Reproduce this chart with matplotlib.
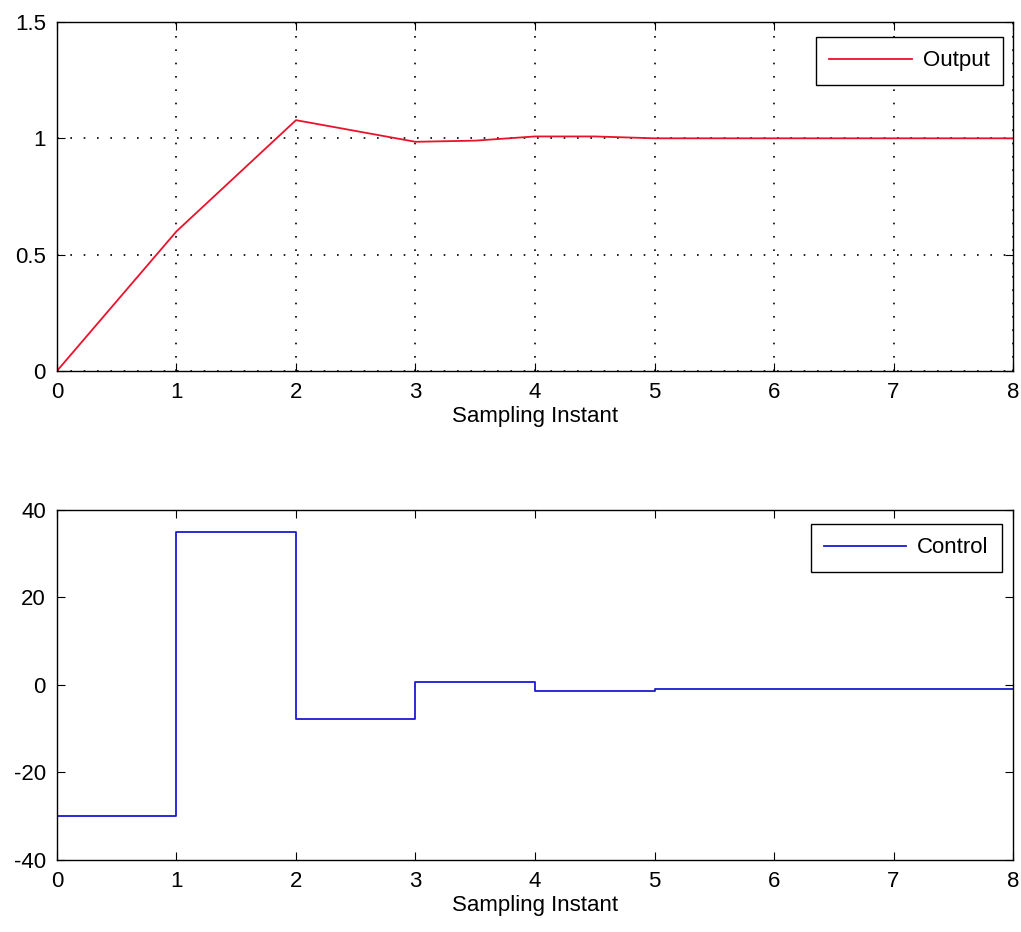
import numpy as np
import matplotlib.pyplot as plt

plt.rcParams['font.family'] = ['Liberation Sans', 'DejaVu Sans']
plt.rcParams['axes.unicode_minus'] = False

# Closed-loop output at the sampling instants
t_out = [0, 1, 2, 3, 3.5, 4, 4.5, 5, 6, 7, 8]
y_out = [0, 0.6, 1.078, 0.985, 0.99, 1.008, 1.008, 1.0, 1.0, 1.0, 1.0]

# Control signal, held constant between samples
t_ctl = [0, 1, 2, 3, 4, 5, 6, 7, 8]
u_ctl = [-30, 35, -7.8, 0.7, -1.3, -0.9, -0.9, -0.9, -0.9]

xticks = [0, 1, 2, 3, 4, 5, 6, 7, 8]

fig = plt.figure(figsize=(10.21, 9.32), dpi=100)
ax1 = fig.add_axes([0.0558, 0.602, 0.9364, 0.3744])
ax2 = fig.add_axes([0.0558, 0.0773, 0.9364, 0.3755])

fs = 16

ax1.plot(t_out, y_out, color='#e8132b', lw=1.3, label='Output')
ax1.set_xlim(0, 8)
ax1.set_ylim(0, 1.5)
ax1.set_xticks(xticks)
ax1.set_yticks([0, 0.5, 1, 1.5])
ax1.set_yticklabels(['0', '0.5', '1', '1.5'])
ax1.grid(True, color='black', linestyle=(0, (1, 7)), linewidth=1.2)
ax1.set_xlabel('Sampling Instant', fontsize=fs, labelpad=2)
leg1 = ax1.legend(loc='upper right', bbox_to_anchor=(0.9895, 0.957), fontsize=fs,
                  fancybox=False, edgecolor='black', framealpha=1,
                  borderaxespad=0, handlelength=3.7, handletextpad=0.5,
                  borderpad=0.6)

ax2.step(t_ctl, u_ctl, where='post', color='#1a1ad0', lw=1.3, label='Control')
ax2.set_xlim(0, 8)
ax2.set_ylim(-40, 40)
ax2.set_xticks(xticks)
ax2.set_yticks([-40, -20, 0, 20, 40])
ax2.set_xlabel('Sampling Instant', fontsize=fs, labelpad=2)
leg2 = ax2.legend(loc='upper right', bbox_to_anchor=(0.9885, 0.96), fontsize=fs,
                  fancybox=False, edgecolor='black', framealpha=1,
                  borderaxespad=0, handlelength=3.7, handletextpad=0.5,
                  borderpad=0.6)

for ax, leg in ((ax1, leg1), (ax2, leg2)):
    leg.get_frame().set_linewidth(1.0)
    ax.tick_params(direction='in', top=True, right=True, length=6,
                   labelsize=fs)
    ax.tick_params(axis='x', pad=8)
    ax.tick_params(axis='y', pad=8)
    for s in ax.spines.values():
        s.set_linewidth(1.0)

fig.savefig('out.png', dpi=100)
